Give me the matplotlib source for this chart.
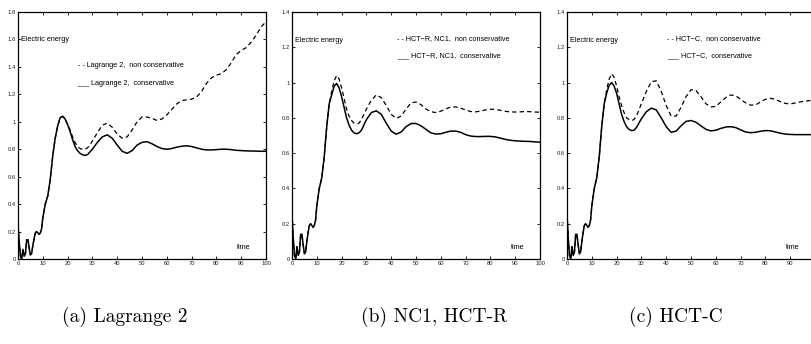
import matplotlib
matplotlib.use("Agg")
import matplotlib.pyplot as plt

# ---------------- data ----------------
t = [0, 0.5, 1, 1.5, 2, 2.5, 3, 3.5, 4, 4.5, 5, 5.5, 6, 6.5, 7, 7.5, 8, 8.5, 9, 9.5,
     10, 11, 12, 13, 14, 15, 16, 17, 18, 19, 20, 21, 22, 23, 24, 25, 26, 27, 28, 29,
     30, 32, 34, 36, 38, 40, 42, 44, 46, 48, 50, 52, 54, 56, 58, 60, 62, 64, 66, 68,
     70, 72, 74, 76, 78, 80, 82, 84, 86, 88, 90, 92, 94, 96, 98, 100]

# early transient (t = 0 .. 15), common shape
early = [0.25, 0.12, 0.02, 0.0, 0.07, 0.02, 0.04, 0.14, 0.14, 0.08, 0.03, 0.04, 0.10, 0.15, 0.19, 0.20,
         0.19, 0.18, 0.19, 0.22, 0.30, 0.40, 0.46, 0.58, 0.75, 0.88]

lag_cons = early + [
    0.97, 1.03, 1.04, 1.02, 0.98, 0.93, 0.87, 0.82, 0.79, 0.77, 0.76, 0.755, 0.76, 0.78,
    0.80, 0.85, 0.89, 0.905, 0.88, 0.83, 0.785, 0.77, 0.79, 0.83, 0.85, 0.855, 0.84, 0.82, 0.805, 0.80,
    0.805, 0.815, 0.822, 0.825, 0.82, 0.81, 0.80, 0.795, 0.795, 0.797, 0.80, 0.80, 0.797, 0.792,
    0.79, 0.788, 0.787, 0.786, 0.785, 0.785]
lag_noncons = early + [
    0.97, 1.03, 1.04, 1.02, 0.98, 0.94, 0.89, 0.85, 0.82, 0.805, 0.80, 0.80, 0.81, 0.83,
    0.86, 0.92, 0.975, 0.99, 0.96, 0.91, 0.88, 0.89, 0.94, 1.00, 1.035, 1.035, 1.025, 1.01, 1.02, 1.05,
    1.09, 1.13, 1.155, 1.16, 1.165, 1.18, 1.22, 1.28, 1.32, 1.34, 1.35, 1.38, 1.43, 1.49,
    1.52, 1.54, 1.58, 1.63, 1.69, 1.73]

hctr_cons = early + [
    0.93, 0.98, 0.995, 0.97, 0.92, 0.86, 0.80, 0.76, 0.73, 0.715, 0.71, 0.715, 0.73, 0.76,
    0.79, 0.83, 0.84, 0.82, 0.77, 0.725, 0.707, 0.72, 0.75, 0.768, 0.768, 0.755, 0.735, 0.715, 0.708, 0.71,
    0.718, 0.725, 0.725, 0.718, 0.705, 0.697, 0.694, 0.694, 0.695, 0.695, 0.692, 0.685, 0.678, 0.673,
    0.67, 0.668, 0.667, 0.666, 0.664, 0.662]
hctr_noncons = early + [
    0.95, 1.01, 1.04, 1.02, 0.97, 0.91, 0.85, 0.81, 0.785, 0.77, 0.766, 0.77, 0.79, 0.82,
    0.85, 0.90, 0.93, 0.915, 0.87, 0.82, 0.797, 0.81, 0.85, 0.885, 0.89, 0.875, 0.85, 0.835, 0.83, 0.838,
    0.85, 0.862, 0.862, 0.855, 0.845, 0.836, 0.834, 0.838, 0.845, 0.849, 0.848, 0.843, 0.837, 0.834,
    0.833, 0.834, 0.836, 0.835, 0.833, 0.832]

hctc_cons = early + [
    0.94, 0.985, 1.0, 0.98, 0.94, 0.88, 0.82, 0.78, 0.75, 0.735, 0.728, 0.73, 0.745, 0.77,
    0.795, 0.835, 0.855, 0.845, 0.80, 0.75, 0.718, 0.725, 0.755, 0.78, 0.785, 0.775, 0.755, 0.735, 0.726, 0.73,
    0.74, 0.748, 0.75, 0.745, 0.732, 0.72, 0.716, 0.718, 0.724, 0.728, 0.727, 0.72, 0.713, 0.708,
    0.706, 0.705, 0.705, 0.705, 0.705, 0.705]
hctc_noncons = early + [
    0.96, 1.02, 1.05, 1.03, 0.98, 0.92, 0.87, 0.83, 0.80, 0.79, 0.785, 0.79, 0.81, 0.845,
    0.88, 0.95, 1.005, 1.01, 0.95, 0.87, 0.81, 0.81, 0.86, 0.92, 0.96, 0.955, 0.92, 0.88, 0.862, 0.865,
    0.89, 0.915, 0.93, 0.925, 0.905, 0.885, 0.872, 0.873, 0.89, 0.905, 0.911, 0.905, 0.892, 0.882,
    0.879, 0.884, 0.89, 0.895, 0.898, 0.90]

xticks = [0, 10, 20, 30, 40, 50, 60, 70, 80, 90, 100]
yticks_a = [0, 0.2, 0.4, 0.6, 0.8, 1.0, 1.2, 1.4, 1.6, 1.8]
yticks_bc = [0, 0.2, 0.4, 0.6, 0.8, 1.0, 1.2, 1.4]

labels_noncons = ["- - Lagrange 2,  non conservative", "- - HCT\u2212R, NC1,  non conservative", "- - HCT\u2212C,  non conservative"]
labels_cons = ["___ Lagrange 2,  conservative", "___ HCT\u2212R, NC1,  conservative", "___ HCT\u2212C,  conservative"]
captions = ["(a) Lagrange 2", "(b) NC1, HCT-R", "(c) HCT-C"]

# ---------------- figure ----------------
W, H = 812, 344
fig = plt.figure(figsize=(W / 100, H / 100), dpi=100)
fig.patch.set_facecolor("white")

sans = ["Liberation Sans", "DejaVu Sans"]

panels = [
    dict(left=18, cons=lag_cons, non=lag_noncons, ymax=1.8, yt=yticks_a,
         lx=24, ly1=1.41, ly2=1.28, ey=1.6, cap_x=125),
    dict(left=292, cons=hctr_cons, non=hctr_noncons, ymax=1.4, yt=yticks_bc,
         lx=42.5, ly1=1.25, ly2=1.15, ey=1.24, cap_x=434),
    dict(left=567, cons=hctc_cons, non=hctc_noncons, ymax=1.4, yt=yticks_bc,
         lx=40.5, ly1=1.25, ly2=1.15, ey=1.24, cap_x=676),
]

ax_w, top_px, bot_px = 248, 12, 259

for i, p in enumerate(panels):
    ax = fig.add_axes([p["left"] / W, (H - bot_px) / H, ax_w / W, (bot_px - top_px) / H])
    ax.plot(t, p["non"], color="black", lw=0.9, ls=(0, (3.5, 2.5)))
    ax.plot(t, p["cons"], color="black", lw=1.1)
    ax.set_xlim(0, 100)
    ax.set_ylim(0, p["ymax"])
    ax.set_xticks(xticks)
    ax.set_xticklabels([str(v) for v in xticks])
    ax.set_yticks(p["yt"])
    ax.set_yticklabels(["0" if v == 0 else ("1" if v == 1 else f"{v:g}") for v in p["yt"]])
    ax.tick_params(direction="in", length=2.5, width=0.6, labelsize=4.2, pad=1.5,
                   top=True, right=True, colors="black")
    for lab in ax.get_xticklabels() + ax.get_yticklabels():
        lab.set_fontfamily(sans)
        lab.set_color("#222222")
    for s in ax.spines.values():
        s.set_linewidth(0.9)
    ax.text(1.4, p["ey"], "Electric energy", fontsize=5.2, family=sans, va="center", ha="left")
    ax.text(p["lx"], p["ly1"], labels_noncons[i], fontsize=5.2, family=sans, va="center", ha="left")
    ax.text(p["lx"], p["ly2"], labels_cons[i], fontsize=5.2, family=sans, va="center", ha="left")
    ax.text(91, p["ymax"] * 0.045, "time", fontsize=5.2, family=sans, va="center", ha="center")
    fig.text(p["cap_x"] / W, 1 - 317 / H, captions[i], fontsize=14,
             family=["cmr10", "DejaVu Serif"], ha="center", va="center")

fig.savefig("out.png", dpi=100)
